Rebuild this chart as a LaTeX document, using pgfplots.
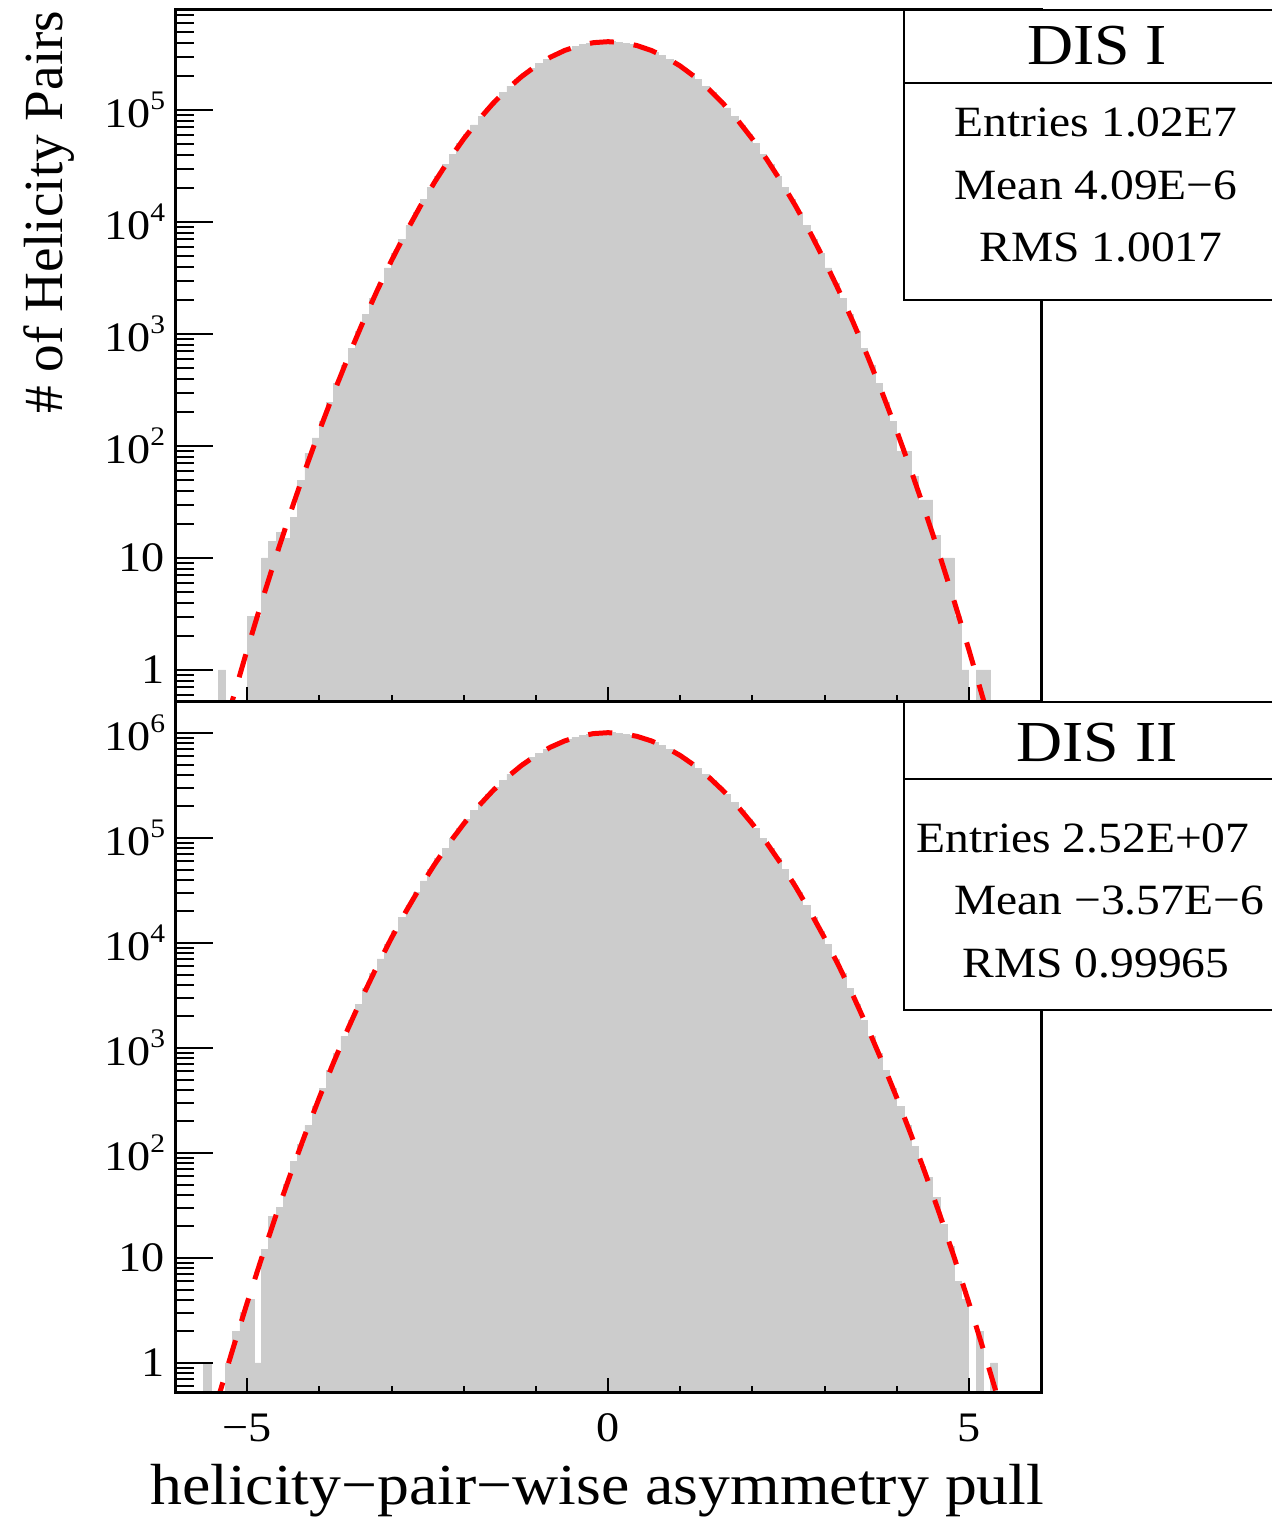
\documentclass[border=0pt]{standalone}
\usepackage{fontspec}
\setmainfont{Liberation Serif}[FakeStretch=1.1]
\newfontfamily\ylabfont{Liberation Serif}
\usepackage{pgfplots}
\pgfplotsset{compat=1.18}
\definecolor{histgray}{RGB}{204,204,204}
\newcommand\pw[1]{10\raisebox{4.5pt}{\fontsize{6.7}{7}\selectfont #1}}

\begin{document}
\begin{tikzpicture}
\useasboundingbox (0,0) rectangle (318pt,379.25pt);

% DIS I
\begin{axis}[ymode=log, log origin=infty,
  scale only axis, width=216.5pt, height=173pt,
  anchor=south west, at={(43.75pt,203.75pt)},
  xmin=-6, xmax=6, ymin=0.518, ymax=7.81e5,
  axis on top, tick pos=left, tick align=inside,
  axis line style={line width=0.75pt},
  tick style={black, line width=0.5pt},
  major tick length=9.5pt, minor tick length=4.75pt,
  xtick style={draw=none},
  tick label style={font=\fontsize{10.5}{12}\selectfont},
  yticklabel style={inner sep=0pt, xshift=-2.3pt},
  xtick={-5,0,5}, xticklabels={},
  ytick={1,10,100,1000,10000,100000},
  yticklabels={1,10,\pw{2},\pw{3},\pw{4},\pw{5}},
  minor ytick={0.6,0.7,0.8,0.9,2,3,4,5,6,7,8,9,20,30,40,50,60,70,80,90,200,300,400,500,600,700,800,900,2000,3000,4000,5000,6000,7000,8000,9000,20000,30000,40000,50000,60000,70000,80000,90000,200000,300000,400000,500000,600000,700000},
]
\addplot[ybar, bar width=0.1, bar shift=0pt, fill=histgray, draw=histgray, line width=0.2pt] coordinates {
(-5.35,1) (-4.95,3) (-4.85,3) (-4.75,10) (-4.65,14) (-4.55,17) (-4.45,15) (-4.35,23) (-4.25,49) (-4.15,86) (-4.05,118)
(-3.95,166) (-3.85,246) (-3.75,360) (-3.65,521) (-3.55,746) (-3.45,1059) (-3.35,1488) (-3.25,2070) (-3.15,2850) (-3.05,3886)
(-2.95,5246) (-2.85,7013) (-2.75,9276) (-2.65,12150) (-2.55,15760) (-2.45,20240) (-2.35,25730) (-2.25,32380) (-2.15,40350) (-2.05,49780)
(-1.95,60800) (-1.85,73520) (-1.75,88020) (-1.65,104300) (-1.55,122400) (-1.45,142200) (-1.35,163600) (-1.25,186300) (-1.15,210100) (-1.05,234500)
(-0.95,259200) (-0.85,283600) (-0.75,307200) (-0.65,329500) (-0.55,349900) (-0.45,367800) (-0.35,382800) (-0.25,394500) (-0.15,402400) (-0.05,406500)
(0.05,406500) (0.15,402400) (0.25,394500) (0.35,382800) (0.45,367800) (0.55,349900) (0.65,329500) (0.75,307200) (0.85,283600) (0.95,259200)
(1.05,234500) (1.15,210100) (1.25,186300) (1.35,163600) (1.45,142200) (1.55,122400) (1.65,104300) (1.75,88020) (1.85,73520) (1.95,60800)
(2.05,49780) (2.15,40350) (2.25,32380) (2.35,25730) (2.45,20240) (2.55,15760) (2.65,12150) (2.75,9276) (2.85,7013) (2.95,5246)
(3.05,3886) (3.15,2850) (3.25,2070) (3.35,1488) (3.45,1059) (3.55,746) (3.65,521) (3.75,360) (3.85,246) (3.95,166)
(4.05,89) (4.15,89) (4.25,53) (4.35,33) (4.45,33) (4.55,16) (4.65,10) (4.75,10) (4.85,3) (4.95,1) (5.15,1) (5.25,1)
};
\addplot[red, line width=1.25pt, dash pattern=on 6pt off 5pt] coordinates {
(-5.6,0.063) (-5.4,0.190) (-5.2,0.547) (-5.0,1.517) (-4.8,4.041) (-4.6,10.35) (-4.4,25.45) (-4.2,60.13) (-4.0,136.5)
(-3.8,297.8) (-3.6,624.3) (-3.4,1257) (-3.2,2432) (-3.0,4521) (-2.8,8075) (-2.6,13857) (-2.4,22847) (-2.2,36191) (-2.0,55083)
(-1.8,80545) (-1.6,113160) (-1.4,152750) (-1.2,198110) (-1.0,246860) (-0.8,295540) (-0.6,339960) (-0.4,375710) (-0.2,398940)
(0,407000) (0.2,398940) (0.4,375710) (0.6,339960) (0.8,295540) (1.0,246860) (1.2,198110) (1.4,152750) (1.6,113160) (1.8,80545)
(2.0,55083) (2.2,36191) (2.4,22847) (2.6,13857) (2.8,8075) (3.0,4521) (3.2,2432) (3.4,1257) (3.6,624.3) (3.8,297.8)
(4.0,136.5) (4.2,60.13) (4.4,25.45) (4.6,10.35) (4.8,4.041) (5.0,1.517) (5.2,0.547) (5.4,0.190) (5.6,0.063)
};
% x ticks (shorter than the y ticks)
\pgfplotsinvokeforeach{-5,0,5}{\draw[line width=0.5pt] (axis cs:#1,0.518) -- ++(0pt,3.75pt);}
\pgfplotsinvokeforeach{-4,-3,-2,-1,1,2,3,4}{\draw[line width=0.5pt] (axis cs:#1,0.518) -- ++(0pt,1.75pt);}
\end{axis}

% DIS II
\begin{axis}[ymode=log, log origin=infty,
  scale only axis, width=216.5pt, height=172.75pt,
  anchor=south west, at={(43.75pt,31pt)},
  xmin=-6, xmax=6, ymin=0.518, ymax=1.97e6,
  axis on top, tick pos=left, tick align=inside,
  axis line style={line width=0.75pt},
  tick style={black, line width=0.5pt},
  major tick length=9.5pt, minor tick length=4.75pt,
  xtick style={draw=none},
  tick label style={font=\fontsize{10.5}{12}\selectfont},
  yticklabel style={inner sep=0pt, xshift=-2.3pt},
  xticklabel style={inner sep=0pt, yshift=-5pt},
  xtick={-5,0,5}, xticklabels={−5,0,5},
  ytick={1,10,100,1000,10000,100000,1000000},
  yticklabels={1,10,\pw{2},\pw{3},\pw{4},\pw{5},\pw{6}},
  minor ytick={0.6,0.7,0.8,0.9,2,3,4,5,6,7,8,9,20,30,40,50,60,70,80,90,200,300,400,500,600,700,800,900,2000,3000,4000,5000,6000,7000,8000,9000,20000,30000,40000,50000,60000,70000,80000,90000,200000,300000,400000,500000,600000,700000,800000,900000},
]
\addplot[ybar, bar width=0.1, bar shift=0pt, fill=histgray, draw=histgray, line width=0.2pt] coordinates {
(-5.55,1) (-5.25,1) (-5.15,2) (-5.05,3) (-4.95,4) (-4.85,1) (-4.75,12) (-4.65,25) (-4.55,30) (-4.45,50) (-4.35,83) (-4.25,120) (-4.15,183) (-4.05,275)
(-3.95,411) (-3.85,608) (-3.75,888) (-3.65,1286) (-3.55,1843) (-3.45,2615) (-3.35,3674) (-3.25,5110) (-3.15,7038) (-3.05,9597)
(-2.95,12950) (-2.85,17320) (-2.75,22900) (-2.65,30010) (-2.55,38920) (-2.45,49980) (-2.35,63530) (-2.25,79960) (-2.15,99640) (-2.05,122900)
(-1.95,150100) (-1.85,181500) (-1.75,217300) (-1.65,257600) (-1.55,302300) (-1.45,351200) (-1.35,404000) (-1.25,460100) (-1.15,518800) (-1.05,579100)
(-0.95,640000) (-0.85,700300) (-0.75,758600) (-0.65,813600) (-0.55,863900) (-0.45,908200) (-0.35,945300) (-0.25,974100) (-0.15,993800) (-0.05,1003700)
(0.05,1003700) (0.15,993800) (0.25,974100) (0.35,945300) (0.45,908200) (0.55,863900) (0.65,813600) (0.75,758600) (0.85,700300) (0.95,640000)
(1.05,579100) (1.15,518800) (1.25,460100) (1.35,404000) (1.45,351200) (1.55,302300) (1.65,257600) (1.75,217300) (1.85,181500) (1.95,150100)
(2.05,122900) (2.15,99640) (2.25,79960) (2.35,63530) (2.45,49980) (2.55,38920) (2.65,30010) (2.75,22900) (2.85,17320) (2.95,12950)
(3.05,9597) (3.15,7038) (3.25,5110) (3.35,3674) (3.45,2615) (3.55,1843) (3.65,1286) (3.75,888) (3.85,608) (3.95,411)
(4.05,275) (4.15,183) (4.25,115) (4.35,74) (4.45,58) (4.55,38) (4.65,21) (4.75,13) (4.85,6) (4.95,4) (5.15,2) (5.35,1)
};
\addplot[red, line width=1.25pt, dash pattern=on 6pt off 5pt] coordinates {
(-5.6,0.156) (-5.4,0.468) (-5.2,1.351) (-5.0,3.745) (-4.8,9.979) (-4.6,25.55) (-4.4,62.84) (-4.2,148.5) (-4.0,337.1)
(-3.8,735.5) (-3.6,1541) (-3.4,3104) (-3.2,6006) (-3.0,11165) (-2.8,19940) (-2.6,34217) (-2.4,56416) (-2.2,89367) (-2.0,136020)
(-1.8,198890) (-1.6,279430) (-1.4,377190) (-1.2,489180) (-1.0,609560) (-0.8,729780) (-0.6,839450) (-0.4,927740) (-0.2,985100)
(0,1005000) (0.2,985100) (0.4,927740) (0.6,839450) (0.8,729780) (1.0,609560) (1.2,489180) (1.4,377190) (1.6,279430) (1.8,198890)
(2.0,136020) (2.2,89367) (2.4,56416) (2.6,34217) (2.8,19940) (3.0,11165) (3.2,6006) (3.4,3104) (3.6,1541) (3.8,735.5)
(4.0,337.1) (4.2,148.5) (4.4,62.84) (4.6,25.55) (4.8,9.979) (5.0,3.745) (5.2,1.351) (5.4,0.468) (5.6,0.156)
};
\pgfplotsinvokeforeach{-5,0,5}{\draw[line width=0.5pt] (axis cs:#1,0.518) -- ++(0pt,3.75pt);}
\pgfplotsinvokeforeach{-4,-3,-2,-1,1,2,3,4}{\draw[line width=0.5pt] (axis cs:#1,0.518) -- ++(0pt,1.75pt);}
\end{axis}

% stats boxes
\fill[white] (226pt,304.25pt) rectangle (318pt,376.75pt);
\draw[line width=0.5pt] (318pt,376.75pt) -- (226pt,376.75pt) -- (226pt,304.25pt) -- (318pt,304.25pt);
\draw[line width=0.5pt] (226pt,358.5pt) -- (318pt,358.5pt);
\node[anchor=base, font=\fontsize{14.5}{16}\selectfont] at (274.25pt,363pt) {DIS I};
\node[anchor=base, font=\fontsize{10.8}{12}\selectfont] at (274pt,345pt) {Entries 1.02E7};
\node[anchor=base, font=\fontsize{10.8}{12}\selectfont] at (274pt,329.25pt) {Mean 4.09E−6};
\node[anchor=base, font=\fontsize{10.8}{12}\selectfont] at (275.25pt,313.75pt) {RMS 1.0017};

\fill[white] (226pt,126.75pt) rectangle (318pt,203.75pt);
\draw[line width=0.5pt] (318pt,203.75pt) -- (226pt,203.75pt) -- (226pt,126.75pt) -- (318pt,126.75pt);
\draw[line width=0.5pt] (226pt,184.5pt) -- (318pt,184.5pt);
\node[anchor=base, font=\fontsize{14.5}{16}\selectfont] at (274.25pt,188.75pt) {DIS II};
\node[anchor=base, font=\fontsize{10.8}{12}\selectfont] at (270.75pt,166pt) {Entries 2.52E+07};
\node[anchor=base, font=\fontsize{10.8}{12}\selectfont] at (277.25pt,150.5pt) {Mean −3.57E−6};
\node[anchor=base, font=\fontsize{10.8}{12}\selectfont] at (274pt,134.75pt) {RMS 0.99965};

% axis titles
\node[anchor=base east, inner sep=0pt, font=\fontsize{14.5}{16}\selectfont] at (261.25pt,3pt) {helicity−pair−wise asymmetry pull};
\node[rotate=90, anchor=base east, inner sep=0pt, font=\ylabfont\fontsize{13.8}{15}\selectfont] at (15.5pt,376.75pt) {\# of Helicity Pairs};
\end{tikzpicture}
\end{document}
